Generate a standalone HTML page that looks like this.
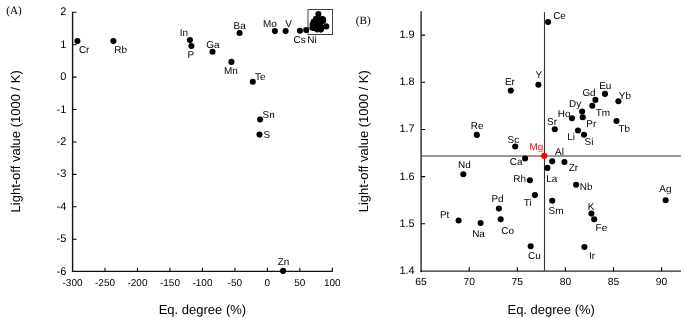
<!DOCTYPE html><html><head><meta charset="utf-8"><style>html,body{margin:0;padding:0;background:#fff;}svg{display:block}text{font-family:"Liberation Sans",Arial,sans-serif;fill:#000;text-rendering:geometricPrecision}</style></head><body>
<svg width="685" height="318" viewBox="0 0 685 318">
<rect width="685" height="318" fill="#fff"/>
<g id="A">
<text x="6.3" y="14" style="font-family:'Liberation Serif',serif;font-size:11.2px">(A)</text>
<path d="M72.6 11.70 V272.05" fill="none" stroke="#111" stroke-width="1.4"/>
<path d="M71.90 271.45 H332.81" fill="none" stroke="#111" stroke-width="1.25"/>
<path d="M72.6 12.30h4 M72.6 44.72h4 M72.6 77.14h4 M72.6 109.56h4 M72.6 141.98h4 M72.6 174.40h4 M72.6 206.82h4 M72.6 239.24h4 M105.02 271.45v-3.6 M137.49 271.45v-3.6 M169.96 271.45v-3.6 M202.43 271.45v-3.6 M234.90 271.45v-3.6 M267.37 271.45v-3.6 M299.84 271.45v-3.6 M332.31 271.45v-3.6" stroke="#000" stroke-width="1.1"/>
<text x="66.4" y="15.30" text-anchor="end" style="font-size:11.0px">2</text>
<text x="66.4" y="47.72" text-anchor="end" style="font-size:11.0px">1</text>
<text x="66.4" y="80.14" text-anchor="end" style="font-size:11.0px">0</text>
<text x="66.4" y="112.56" text-anchor="end" style="font-size:11.0px">-1</text>
<text x="66.4" y="144.98" text-anchor="end" style="font-size:11.0px">-2</text>
<text x="66.4" y="177.40" text-anchor="end" style="font-size:11.0px">-3</text>
<text x="66.4" y="209.82" text-anchor="end" style="font-size:11.0px">-4</text>
<text x="66.4" y="242.24" text-anchor="end" style="font-size:11.0px">-5</text>
<text x="66.4" y="274.66" text-anchor="end" style="font-size:11.0px">-6</text>
<text x="72.55" y="285.6" text-anchor="middle" style="font-size:10.0px">-300</text>
<text x="105.02" y="285.6" text-anchor="middle" style="font-size:10.0px">-250</text>
<text x="137.49" y="285.6" text-anchor="middle" style="font-size:10.0px">-200</text>
<text x="169.96" y="285.6" text-anchor="middle" style="font-size:10.0px">-150</text>
<text x="202.43" y="285.6" text-anchor="middle" style="font-size:10.0px">-100</text>
<text x="234.90" y="285.6" text-anchor="middle" style="font-size:10.0px">-50</text>
<text x="267.37" y="285.6" text-anchor="middle" style="font-size:10.0px">0</text>
<text x="299.84" y="285.6" text-anchor="middle" style="font-size:10.0px">50</text>
<text x="332.31" y="285.6" text-anchor="middle" style="font-size:10.0px">100</text>
<text transform="translate(19.7,141.35) rotate(-90)" text-anchor="middle" style="font-size:13px">Light-off value (1000 / K)</text>
<text x="202.4" y="314" text-anchor="middle" style="font-size:13px">Eq. degree (%)</text>
<rect x="308" y="9.5" width="24.5" height="25" fill="none" stroke="#444" stroke-width="1"/>
<circle cx="77.4" cy="41.1" r="3.05"/>
<circle cx="113.4" cy="41.1" r="3.05"/>
<circle cx="189.9" cy="40.1" r="3.05"/>
<circle cx="191.4" cy="46.0" r="3.05"/>
<circle cx="212.5" cy="51.7" r="3.05"/>
<circle cx="239.6" cy="33.0" r="3.05"/>
<circle cx="231.4" cy="61.9" r="3.05"/>
<circle cx="252.8" cy="81.7" r="3.05"/>
<circle cx="274.9" cy="31.1" r="3.05"/>
<circle cx="285.6" cy="31.1" r="3.05"/>
<circle cx="299.9" cy="30.8" r="3.05"/>
<circle cx="306.2" cy="30.1" r="3.05"/>
<circle cx="260.1" cy="119.5" r="3.05"/>
<circle cx="259.5" cy="134.6" r="3.05"/>
<circle cx="283.1" cy="270.9" r="3.05"/>
<circle cx="318.43" cy="14.12" r="3.05"/>
<circle cx="315.91" cy="18.84" r="3.05"/>
<circle cx="317.78" cy="18.44" r="3.05"/>
<circle cx="322.28" cy="19.07" r="3.05"/>
<circle cx="321.63" cy="19.48" r="3.05"/>
<circle cx="321.42" cy="19.88" r="3.05"/>
<circle cx="323.18" cy="19.57" r="3.05"/>
<circle cx="320.73" cy="20.28" r="3.05"/>
<circle cx="320.77" cy="20.67" r="3.05"/>
<circle cx="320.05" cy="20.74" r="3.05"/>
<circle cx="323.05" cy="20.93" r="3.05"/>
<circle cx="318.88" cy="21.49" r="3.05"/>
<circle cx="320.45" cy="21.58" r="3.05"/>
<circle cx="320.86" cy="21.87" r="3.05"/>
<circle cx="313.61" cy="21.89" r="3.05"/>
<circle cx="316.21" cy="22.69" r="3.05"/>
<circle cx="316.88" cy="23.51" r="3.05"/>
<circle cx="318.71" cy="23.70" r="3.05"/>
<circle cx="319.53" cy="23.75" r="3.05"/>
<circle cx="318.38" cy="24.16" r="3.05"/>
<circle cx="312.70" cy="24.60" r="3.05"/>
<circle cx="317.20" cy="25.00" r="3.05"/>
<circle cx="320.32" cy="25.32" r="3.05"/>
<circle cx="317.54" cy="26.03" r="3.05"/>
<circle cx="326.37" cy="26.38" r="3.05"/>
<circle cx="318.71" cy="26.42" r="3.05"/>
<circle cx="315.11" cy="26.96" r="3.05"/>
<circle cx="321.36" cy="27.30" r="3.05"/>
<circle cx="321.55" cy="27.69" r="3.05"/>
<circle cx="315.23" cy="27.69" r="3.05"/>
<circle cx="312.38" cy="27.78" r="3.05"/>
<circle cx="313.87" cy="27.95" r="3.05"/>
<circle cx="317.26" cy="29.54" r="3.05"/>
<circle cx="320.88" cy="29.60" r="3.05"/>
<circle cx="318.17" cy="23.32" r="3.05"/>
<text x="78.90" y="53" style="font-size:9.95px">Cr</text>
<text x="114.30" y="53" style="font-size:9.95px">Rb</text>
<text x="179.80" y="36" style="font-size:9.95px">In</text>
<text x="187.40" y="58" style="font-size:9.95px">P</text>
<text x="206.20" y="48" style="font-size:9.95px">Ga</text>
<text x="233.60" y="29" style="font-size:9.95px">Ba</text>
<text x="224.05" y="74" style="font-size:9.95px">Mn</text>
<text x="255.10" y="80" style="font-size:9.95px">Te</text>
<text x="263.05" y="27" style="font-size:9.95px">Mo</text>
<text x="285.15" y="27" style="font-size:9.95px">V</text>
<text x="293.50" y="43" style="font-size:9.95px">Cs</text>
<text x="307.30" y="43" style="font-size:9.95px">Ni</text>
<text x="262.50" y="118" style="font-size:9.95px">Sn</text>
<text x="263.40" y="138" style="font-size:9.95px">S</text>
<text x="277.70" y="265" style="font-size:9.95px">Zn</text>
</g>
<g id="B">
<text x="355.7" y="24" style="font-family:'Liberation Serif',serif;font-size:11.2px">(B)</text>
<path d="M421.1 11.3 V271.9" fill="none" stroke="#000" stroke-width="1.5" stroke-opacity="0.8"/>
<path d="M420.35 271.15 H681" fill="none" stroke="#000" stroke-width="1.4" stroke-opacity="0.85"/>
<path d="M421.1 223.75h4 M421.1 176.60h4 M421.1 129.45h4 M421.1 82.30h4 M421.1 35.15h4 M469.20 271.15v-3.9 M517.30 271.15v-3.9 M565.40 271.15v-3.9 M613.50 271.15v-3.9 M661.60 271.15v-3.9" stroke="#000" stroke-width="1.1"/>
<text x="414.6" y="273.90" text-anchor="end" style="font-size:10.9px">1.4</text>
<text x="414.6" y="226.75" text-anchor="end" style="font-size:10.9px">1.5</text>
<text x="414.6" y="179.60" text-anchor="end" style="font-size:10.9px">1.6</text>
<text x="414.6" y="132.45" text-anchor="end" style="font-size:10.9px">1.7</text>
<text x="414.6" y="85.30" text-anchor="end" style="font-size:10.9px">1.8</text>
<text x="414.6" y="38.15" text-anchor="end" style="font-size:10.9px">1.9</text>
<text x="421.10" y="285.4" text-anchor="middle" style="font-size:10.3px">65</text>
<text x="469.20" y="285.4" text-anchor="middle" style="font-size:10.3px">70</text>
<text x="517.30" y="285.4" text-anchor="middle" style="font-size:10.3px">75</text>
<text x="565.40" y="285.4" text-anchor="middle" style="font-size:10.3px">80</text>
<text x="613.50" y="285.4" text-anchor="middle" style="font-size:10.3px">85</text>
<text x="661.60" y="285.4" text-anchor="middle" style="font-size:10.3px">90</text>
<text transform="translate(368.2,141.2) rotate(-90)" text-anchor="middle" style="font-size:13px">Light-off value (1000 / K)</text>
<text x="551.2" y="313.7" text-anchor="middle" style="font-size:13px">Eq. degree (%)</text>
<path d="M544.5 12.2V270.9" stroke="#333" stroke-width="1.1"/>
<path d="M421.1 156H681" stroke="#333" stroke-width="1"/>
<circle cx="548.1" cy="22.0" r="3.05"/>
<circle cx="510.8" cy="90.6" r="3.05"/>
<circle cx="538.4" cy="84.8" r="3.05"/>
<circle cx="605.0" cy="93.9" r="3.05"/>
<circle cx="595.4" cy="99.9" r="3.05"/>
<circle cx="592.3" cy="105.7" r="3.05"/>
<circle cx="618.4" cy="101.2" r="3.05"/>
<circle cx="582.1" cy="111.6" r="3.05"/>
<circle cx="582.7" cy="117.2" r="3.05"/>
<circle cx="572.0" cy="118.2" r="3.05"/>
<circle cx="616.5" cy="121.0" r="3.05"/>
<circle cx="554.8" cy="129.2" r="3.05"/>
<circle cx="578.0" cy="130.5" r="3.05"/>
<circle cx="584.0" cy="134.7" r="3.05"/>
<circle cx="476.8" cy="134.9" r="3.05"/>
<circle cx="515.2" cy="146.5" r="3.05"/>
<circle cx="525.1" cy="158.5" r="3.05"/>
<circle cx="552.2" cy="161.3" r="3.05"/>
<circle cx="564.4" cy="162.0" r="3.05"/>
<circle cx="547.4" cy="167.9" r="3.05"/>
<circle cx="463.3" cy="174.3" r="3.05"/>
<circle cx="529.9" cy="180.2" r="3.05"/>
<circle cx="576.1" cy="184.8" r="3.05"/>
<circle cx="534.9" cy="195.1" r="3.05"/>
<circle cx="665.6" cy="200.2" r="3.05"/>
<circle cx="552.2" cy="200.8" r="3.05"/>
<circle cx="498.9" cy="208.6" r="3.05"/>
<circle cx="591.4" cy="213.6" r="3.05"/>
<circle cx="594.2" cy="219.2" r="3.05"/>
<circle cx="500.7" cy="219.2" r="3.05"/>
<circle cx="458.6" cy="220.5" r="3.05"/>
<circle cx="480.6" cy="223.0" r="3.05"/>
<circle cx="530.7" cy="246.2" r="3.05"/>
<circle cx="584.4" cy="247.0" r="3.05"/>
<circle cx="544.2" cy="155.8" r="3.15" fill="#f00"/>
<text x="553.20" y="19" style="font-size:9.95px">Ce</text>
<text x="504.90" y="85" style="font-size:9.95px">Er</text>
<text x="535.47" y="78" style="font-size:9.95px">Y</text>
<text x="599.20" y="89" style="font-size:9.95px">Eu</text>
<text x="582.40" y="96" style="font-size:9.95px">Gd</text>
<text x="618.77" y="99" style="font-size:9.95px">Yb</text>
<text x="569.10" y="107" style="font-size:9.95px">Dy</text>
<text x="595.70" y="116" style="font-size:9.95px">Tm</text>
<text x="557.80" y="117" style="font-size:9.95px">Ho</text>
<text x="586.30" y="127" style="font-size:9.95px">Pr</text>
<text x="618.40" y="132" style="font-size:9.95px">Tb</text>
<text x="547.00" y="125" style="font-size:9.95px">Sr</text>
<text x="567.15" y="140" style="font-size:9.95px">Li</text>
<text x="584.50" y="145" style="font-size:9.95px">Si</text>
<text x="470.80" y="129" style="font-size:9.95px">Re</text>
<text x="507.60" y="143" style="font-size:9.95px">Sc</text>
<text x="555.10" y="155" style="font-size:9.95px">Al</text>
<text x="509.80" y="165" style="font-size:9.95px">Ca</text>
<text x="568.70" y="171" style="font-size:9.95px">Zr</text>
<text x="458.10" y="168" style="font-size:9.95px">Nd</text>
<text x="546.35" y="182" style="font-size:9.95px">La</text>
<text x="513.30" y="182" style="font-size:9.95px">Rh</text>
<text x="579.80" y="190" style="font-size:9.95px">Nb</text>
<text x="523.70" y="206" style="font-size:9.95px">Ti</text>
<text x="548.50" y="214" style="font-size:9.95px">Sm</text>
<text x="659.30" y="192" style="font-size:9.95px">Ag</text>
<text x="491.40" y="202" style="font-size:9.95px">Pd</text>
<text x="587.85" y="210" style="font-size:9.95px">K</text>
<text x="439.90" y="218" style="font-size:9.95px">Pt</text>
<text x="595.60" y="231" style="font-size:9.95px">Fe</text>
<text x="501.30" y="234" style="font-size:9.95px">Co</text>
<text x="472.20" y="237" style="font-size:9.95px">Na</text>
<text x="528.10" y="259" style="font-size:9.95px">Cu</text>
<text x="588.90" y="259" style="font-size:9.95px">Ir</text>
<text x="529.58" y="150" style="font-size:9.95px;fill:#f00">Mg</text>
</g>
</svg></body></html>
